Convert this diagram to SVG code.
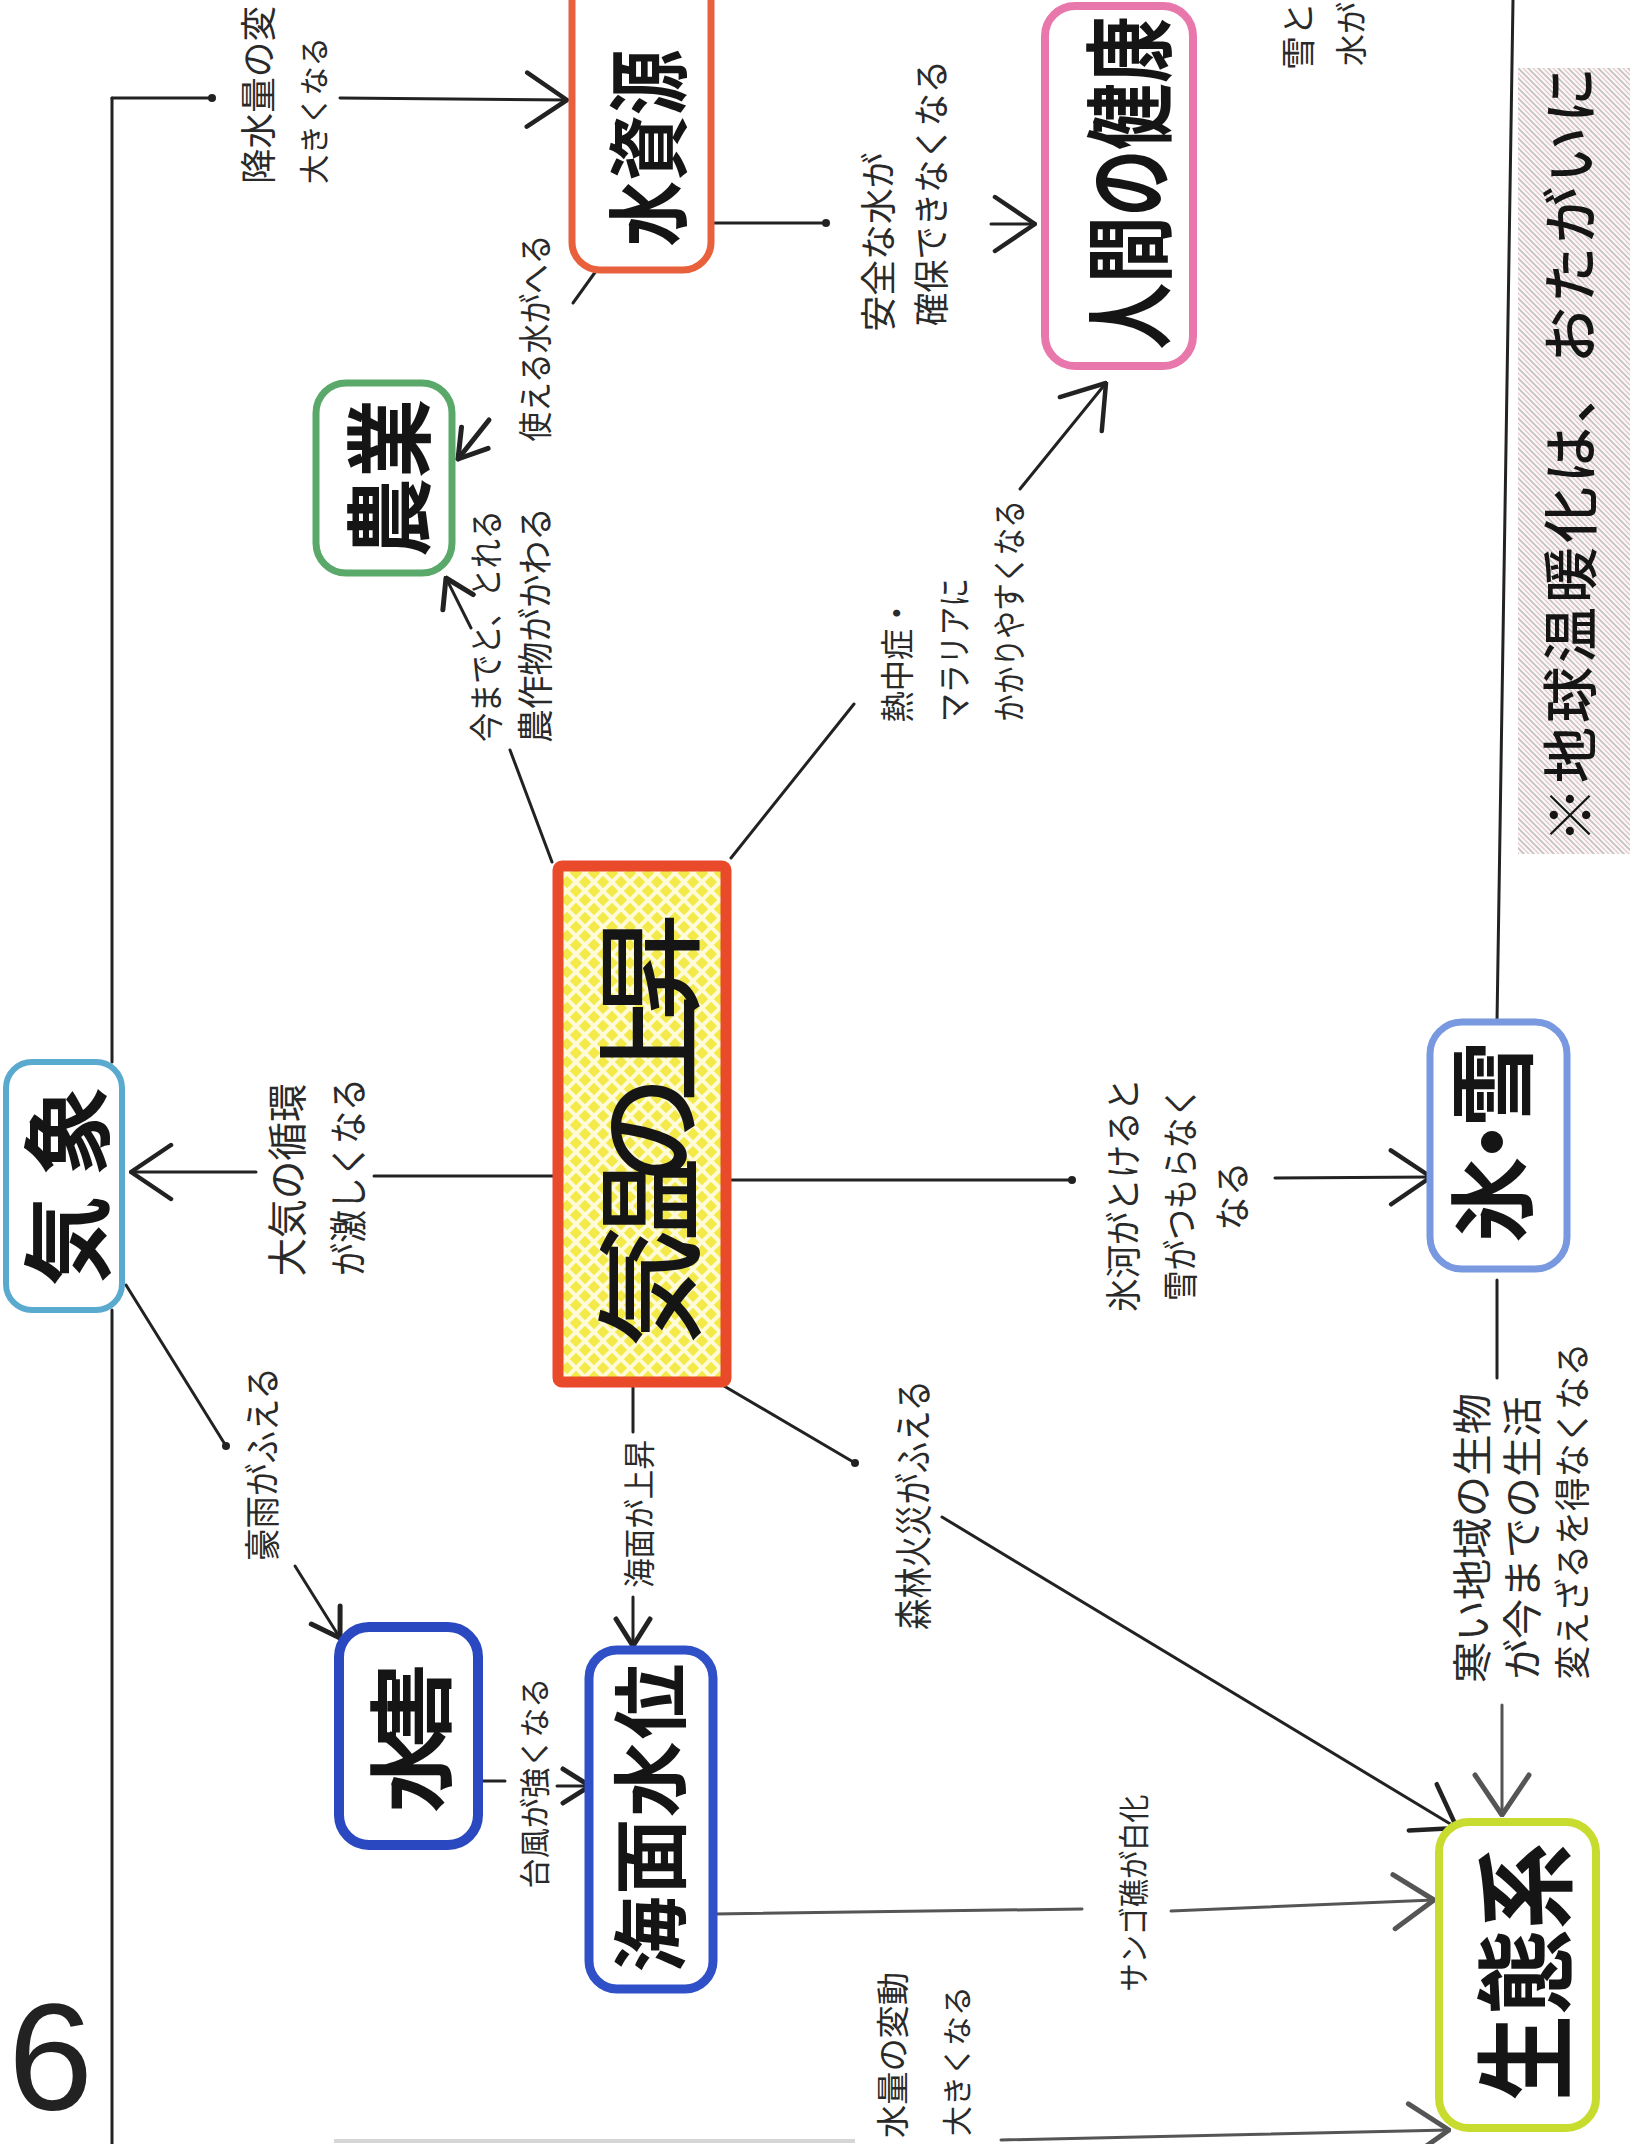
<svg xmlns="http://www.w3.org/2000/svg" width="1635" height="2144" viewBox="0 0 1635 2144">
<defs>
<style>
.l{font-family:"Noto Sans CJK JP","Noto Sans",sans-serif;fill:#2a2a2a;text-anchor:middle;dominant-baseline:central;}
.n{font-family:"Noto Sans CJK JP","Noto Sans",sans-serif;font-weight:700;fill:#151515;text-anchor:middle;dominant-baseline:central;}
.box{fill:#fff;}
.c{stroke:#222;stroke-width:3;fill:none;stroke-linecap:round;}
.g{stroke:#555;}
.dot{fill:#222;}
</style>
<marker id="ab" viewBox="0 0 46 60" refX="44" refY="30" markerWidth="46" markerHeight="60" markerUnits="userSpaceOnUse" orient="auto"><path d="M4,3 L44,30 L4,57" fill="none" stroke="#222" stroke-width="4.5" stroke-linecap="round" stroke-linejoin="round"/></marker>
<marker id="abg" viewBox="0 0 46 60" refX="44" refY="30" markerWidth="46" markerHeight="60" markerUnits="userSpaceOnUse" orient="auto"><path d="M4,3 L44,30 L4,57" fill="none" stroke="#555" stroke-width="5" stroke-linecap="round" stroke-linejoin="round"/></marker>
<marker id="as" viewBox="0 0 32 40" refX="30" refY="20" markerWidth="32" markerHeight="40" markerUnits="userSpaceOnUse" orient="auto"><path d="M3,3 L30,20 L3,37" fill="none" stroke="#222" stroke-width="5" stroke-linecap="round" stroke-linejoin="round"/></marker>
<pattern id="hatchY" width="18" height="18" patternUnits="userSpaceOnUse"><rect width="18" height="18" fill="#f3ea4a"/><path d="M0,0 L18,18 M18,0 L0,18" stroke="#fffbd8" stroke-width="4"/></pattern>
<pattern id="hatchN" width="10" height="10" patternUnits="userSpaceOnUse"><rect width="10" height="10" fill="#fbf8f8"/><path d="M0,0 L10,10 M-5,5 L5,15 M5,-5 L15,5" stroke="#c4c0c0" stroke-width="1.6"/><path d="M0,5 L5,10 M5,0 L10,5" stroke="#e8c2cc" stroke-width="1.2"/></pattern>
</defs>
<rect width="1635" height="2144" fill="#fff"/>

<g id="note">
<rect x="1518" y="68" width="112" height="786" fill="url(#hatchN)"/>
<text class="n" transform="translate(1566,455) rotate(-90)" font-size="56" textLength="776" style="font-weight:500">※地球温暖化は、おたがいに</text>
</g>

<g id="connectors">
<path class="c" d="M112,98 L112,1062"/>
<path class="c" d="M112,1310 L112,2144"/>
<path class="c" d="M112,98 L212,98"/><circle class="dot" cx="212" cy="98" r="4"/>
<path class="c" d="M340,98 L567,100" marker-end="url(#ab)"/>
<path class="c" d="M557,1176 L374,1176"/>
<path class="c" d="M256,1172 L131,1172" marker-end="url(#ab)"/>
<path class="c" d="M727,1180 L1072,1180"/><circle class="dot" cx="1072" cy="1180" r="4"/>
<path class="c" d="M1275,1178 L1431,1177" marker-end="url(#ab)"/>
<path class="c" d="M552,862 L510,750"/>
<path class="c" d="M471,628 L446,578" marker-end="url(#as)"/>
<path class="c" d="M596,271 L573,303"/>
<path class="c" style="stroke-width:5" d="M489,420 L458,459" marker-end="url(#as)"/>
<path class="c" d="M711,223 L826,223"/><circle class="dot" cx="826" cy="223" r="4"/>
<path class="c" d="M991,224 L1035,224" marker-end="url(#ab)"/>
<path class="c" d="M731,858 L854,704"/>
<path class="c" d="M1020,489 L1106,383" marker-end="url(#ab)"/>
<path class="c" d="M126,1285 L226,1446"/><circle class="dot" cx="226" cy="1446" r="4"/>
<path class="c" d="M295,1566 L340,1638" marker-end="url(#as)"/>
<path class="c" d="M633,1383 L633,1432"/>
<path class="c" d="M633,1597 L633,1646" marker-end="url(#as)"/>
<path class="c" d="M479,1781 L505,1781"/>
<path class="c" d="M557,1786 L590,1786" marker-end="url(#as)"/>
<path class="c g" d="M714,1914 L1082,1909"/>
<path class="c g" d="M1171,1911 L1434,1900" marker-end="url(#abg)"/>
<path class="c" d="M724,1386 L855,1463"/><circle class="dot" cx="855" cy="1463" r="4"/>
<path class="c" d="M942,1517 L1457,1828" marker-end="url(#ab)"/>
<path class="c" d="M1497,1280 L1497,1378"/>
<path class="c g" d="M1502,1705 L1502,1815" marker-end="url(#abg)"/>
<path class="c g" d="M1001,2140 L1449,2130" marker-end="url(#abg)"/>
<path class="c" d="M1513,0 L1497,1022"/>
<path d="M334,2141 L855,2141" stroke="#d6d6d6" stroke-width="4"/>
</g>

<g id="edge-labels">
<text class="l" transform="translate(256,184) rotate(-90)" font-size="36" style="text-anchor:start" textLength="178" lengthAdjust="spacingAndGlyphs">降水量の変</text>
<text class="l" transform="translate(312,184) rotate(-90)" font-size="30" style="text-anchor:start" textLength="147" lengthAdjust="spacingAndGlyphs">大きくなる</text>
<text class="l" transform="translate(891,1972) rotate(-90)" font-size="33" style="text-anchor:end" textLength="166" lengthAdjust="spacingAndGlyphs">水量の変動</text>
<text class="l" transform="translate(955,1986) rotate(-90)" font-size="30" style="text-anchor:end" textLength="150" lengthAdjust="spacingAndGlyphs">大きくなる</text>
<text class="l" transform="translate(285,1180) rotate(-90)" font-size="40" textLength="193" lengthAdjust="spacingAndGlyphs">大気の循環</text>
<text class="l" transform="translate(345,1177) rotate(-90)" font-size="38" textLength="198" lengthAdjust="spacingAndGlyphs">が激しくなる</text>
<text class="l" transform="translate(1121,1195) rotate(-90)" font-size="36" textLength="234" lengthAdjust="spacingAndGlyphs">氷河がとけると</text>
<text class="l" transform="translate(1178,1194) rotate(-90)" font-size="36" textLength="214" lengthAdjust="spacingAndGlyphs">雪がつもらなく</text>
<text class="l" transform="translate(1230,1196) rotate(-90)" font-size="36" textLength="69" lengthAdjust="spacingAndGlyphs">なる</text>
<text class="l" transform="translate(484,626) rotate(-90)" font-size="34" textLength="232" lengthAdjust="spacingAndGlyphs">今までと、とれる</text>
<text class="l" transform="translate(533,625) rotate(-90)" font-size="36" textLength="236" lengthAdjust="spacingAndGlyphs">農作物がかわる</text>
<text class="l" transform="translate(533,338) rotate(-90)" font-size="34" textLength="207" lengthAdjust="spacingAndGlyphs">使える水がへる</text>
<text class="l" transform="translate(876,242) rotate(-90)" font-size="36" textLength="179" lengthAdjust="spacingAndGlyphs">安全な水が</text>
<text class="l" transform="translate(929,193) rotate(-90)" font-size="36" textLength="266" lengthAdjust="spacingAndGlyphs">確保できなくなる</text>
<text class="l" transform="translate(895,660) rotate(-90)" font-size="34" textLength="125" lengthAdjust="spacingAndGlyphs">熱中症・</text>
<text class="l" transform="translate(952,650) rotate(-90)" font-size="34" textLength="144" lengthAdjust="spacingAndGlyphs">マラリアに</text>
<text class="l" transform="translate(1007,611) rotate(-90)" font-size="34" textLength="222" lengthAdjust="spacingAndGlyphs">かかりやすくなる</text>
<text class="l" transform="translate(260,1464) rotate(-90)" font-size="36" textLength="194" lengthAdjust="spacingAndGlyphs">豪雨がふえる</text>
<text class="l" transform="translate(637,1514) rotate(-90)" font-size="32" textLength="148" lengthAdjust="spacingAndGlyphs">海面が上昇</text>
<text class="l" transform="translate(532,1783) rotate(-90)" font-size="31" textLength="211" lengthAdjust="spacingAndGlyphs">台風が強くなる</text>
<text class="l" transform="translate(1131,1893) rotate(-90)" font-size="31" textLength="197" lengthAdjust="spacingAndGlyphs">サンゴ礁が白化</text>
<text class="l" transform="translate(910,1505) rotate(-90)" font-size="38" textLength="250" lengthAdjust="spacingAndGlyphs">森林火災がふえる</text>
<text class="l" transform="translate(1470,1538) rotate(-90)" font-size="40" textLength="290" lengthAdjust="spacingAndGlyphs">寒い地域の生物</text>
<text class="l" transform="translate(1520,1538) rotate(-90)" font-size="40" textLength="283" lengthAdjust="spacingAndGlyphs">が今までの生活</text>
<text class="l" transform="translate(1570,1511) rotate(-90)" font-size="36" textLength="337" lengthAdjust="spacingAndGlyphs">変えざるを得なくなる</text>
<text class="l" transform="translate(1296,70) rotate(-90)" font-size="34" style="text-anchor:start">雪と</text>
<text class="l" transform="translate(1349,66) rotate(-90)" font-size="32" style="text-anchor:start">水が</text>
</g>

<g id="node-kisho">
<rect class="box" x="6" y="1062" width="116" height="248" rx="26" stroke="#5aaad0" stroke-width="6"/>
<text class="n" transform="translate(62,1186) rotate(-90)" font-size="90" textLength="200">気象</text>
</g>
<g id="node-kion">
<rect x="558" y="866" width="168" height="516" rx="4" fill="url(#hatchY)" stroke="#e84a2a" stroke-width="11"/>
<text class="n" transform="translate(643,1130) rotate(-90)" font-size="108" textLength="434" style="font-weight:500">気温の上昇</text>
</g>
<g id="node-mizushigen">
<rect class="box" x="572" y="-30" width="139" height="300" rx="28" stroke="#e8603c" stroke-width="7"/>
<text class="n" transform="translate(643,148) rotate(-90) scale(0.8,1)" font-size="82">水資源</text>
</g>
<g id="node-kenko">
<rect class="box" x="1045" y="6" width="148" height="360" rx="30" stroke="#e878ac" stroke-width="8"/>
<text class="n" transform="translate(1124,183) rotate(-90) scale(0.74,1)" font-size="90">人間の健康</text>
</g>
<g id="node-nogyo">
<rect class="box" x="316" y="383" width="136" height="190" rx="30" stroke="#5aa86a" stroke-width="7"/>
<text class="n" transform="translate(384,478) rotate(-90) scale(0.9,1)" font-size="88">農業</text>
</g>
<g id="node-suigai">
<rect class="box" x="339" y="1627" width="139" height="218" rx="30" stroke="#2a48c0" stroke-width="10"/>
<text class="n" transform="translate(406,1738) rotate(-90)" font-size="86" textLength="150">水害</text>
</g>
<g id="node-kaimen">
<rect class="box" x="589" y="1650" width="124" height="339" rx="28" stroke="#3050c8" stroke-width="9"/>
<text class="n" transform="translate(646,1818) rotate(-90)" font-size="76" textLength="309">海面水位</text>
</g>
<g id="node-hyosetsu">
<rect class="box" x="1430" y="1022" width="137" height="247" rx="32" stroke="#7898e0" stroke-width="7"/>
<text class="n" transform="translate(1487,1142) rotate(-90)" font-size="86" textLength="202">氷・雪</text>
</g>
<g id="node-seitaikei">
<rect class="box" x="1439" y="1822" width="157" height="306" rx="30" stroke="#c8dc30" stroke-width="8"/>
<text class="n" transform="translate(1520,1972) rotate(-90) scale(0.86,1)" font-size="100">生態系</text>
</g>

<text x="8" y="2110" font-family="Liberation Sans, sans-serif" font-size="153" fill="#222">6</text>
</svg>
